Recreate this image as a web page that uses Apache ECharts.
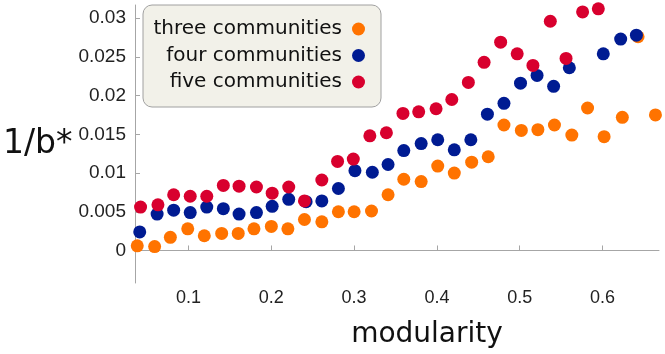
<!DOCTYPE html>
<html style="height: 100%">
<head>
   <meta charset="utf-8">
</head>
<style>
    body, html {
        margin: 0;
        padding: 0;
        background: #fff;
    }
    #main {
        width: 665px;
        height: 354px;
    }
</style>
<title>1/b* vs modularity</title>
<script src="https://cdn.jsdelivr.net/npm/echarts@6/dist/echarts.min.js"></script>
<body>
   <div id="main"></div>
   <script type="text/javascript">
    // series names
    var names = ['three communities', 'four communities', 'five communities'];
    var colors = ['#ff7300', '#001b92', '#d8002e'];

    // three communities
    var threeX = [0.038, 0.059, 0.078, 0.099, 0.119, 0.140, 0.160, 0.179, 0.200, 0.220,
                  0.240, 0.261, 0.281, 0.300, 0.321, 0.341, 0.360, 0.381, 0.401, 0.421,
                  0.442, 0.462, 0.481, 0.502, 0.522, 0.542, 0.563, 0.582, 0.602, 0.624,
                  0.643, 0.664];
    var threeY = [0.0006, 0.0005, 0.0017, 0.0028, 0.0019, 0.0022, 0.0022, 0.0028, 0.0031, 0.0028,
                  0.0040, 0.0037, 0.0050, 0.0050, 0.0051, 0.0072, 0.0092, 0.0089, 0.0109, 0.0100,
                  0.0114, 0.0121, 0.0162, 0.0155, 0.0156, 0.0162, 0.0149, 0.0184, 0.0147, 0.0172,
                  0.0276, 0.0175];

    // four communities
    var fourX = [0.041, 0.062, 0.082, 0.102, 0.122, 0.142, 0.161, 0.182, 0.201, 0.221,
                 0.242, 0.261, 0.281, 0.301, 0.322, 0.341, 0.360, 0.381, 0.401, 0.421,
                 0.441, 0.461, 0.481, 0.501, 0.521, 0.541, 0.560, 0.601, 0.622, 0.641];
    var fourY = [0.0024, 0.0047, 0.0052, 0.0049, 0.0056, 0.0054, 0.0047, 0.0049, 0.0057, 0.0066,
                 0.0063, 0.0064, 0.0080, 0.0103, 0.0101, 0.0111, 0.0129, 0.0138, 0.0143, 0.0130,
                 0.0143, 0.0176, 0.0190, 0.0216, 0.0226, 0.0212, 0.0236, 0.0254, 0.0273, 0.0278];

    // five communities
    var fiveX = [0.042, 0.063, 0.082, 0.102, 0.122, 0.142, 0.161, 0.182, 0.201, 0.221,
                 0.240, 0.261, 0.280, 0.299, 0.319, 0.339, 0.359, 0.378, 0.399, 0.418,
                 0.438, 0.457, 0.477, 0.497, 0.516, 0.537, 0.556, 0.576, 0.595];
    var fiveY = [0.0056, 0.0059, 0.0072, 0.0070, 0.0070, 0.0084, 0.0083, 0.0082, 0.0074, 0.0082,
                 0.0064, 0.0091, 0.0115, 0.0118, 0.0148, 0.0152, 0.0177, 0.0179, 0.0183, 0.0195,
                 0.0217, 0.0243, 0.0269, 0.0254, 0.0239, 0.0296, 0.0248, 0.0308, 0.0312];

    function pairs(xs, ys) {
        return xs.map(function (x, i) { return [x, ys[i]]; });
    }

    var myChart = echarts.init(document.getElementById('main'));
    var axisGray = '#a6a6a6';
    var option = {
        animation: false,
        grid: { left: 131, right: 6, top: 5, bottom: 68 },
        legend: {
            orient: 'vertical',
            left: 143,
            top: 5,
            align: 'right',
            icon: 'circle',
            itemWidth: 13,
            itemHeight: 13,
            itemGap: 6.5,
            padding: [14, 16, 15, 9],
            backgroundColor: '#f2f1e9',
            borderColor: '#a0a0a0',
            borderWidth: 1,
            borderRadius: 9,
            textStyle: {
                fontFamily: 'DejaVu Sans',
                fontSize: 20,
                lineHeight: 20,
                color: '#111',
                width: 190,
                align: 'right',
                padding: [0, 5, 0, 0]
            },
            data: names
        },
        xAxis: {
            type: 'value',
            min: 0.0353,
            max: 0.6683,
            splitNumber: 6,
            name: 'modularity',
            nameLocation: 'middle',
            nameGap: 38,
            nameTextStyle: {
                fontFamily: 'DejaVu Sans',
                fontSize: 28,
                color: '#111',
                padding: [0, 0, 0, 60]
            },
            axisLine: { lineStyle: { color: axisGray } },
            axisTick: { inside: true, length: 5, lineStyle: { color: axisGray } },
            splitLine: { show: false },
            axisLabel: {
                showMinLabel: false,
                showMaxLabel: false,
                margin: 6,
                fontFamily: 'Liberation Sans',
                fontSize: 18,
                color: '#222'
            }
        },
        yAxis: {
            type: 'value',
            min: -0.0042,
            max: 0.0317,
            splitNumber: 7,
            name: '1/b*',
            nameLocation: 'middle',
            nameRotate: 0,
            nameGap: 62,
            nameTextStyle: {
                fontFamily: 'DejaVu Sans',
                fontSize: 33,
                color: '#111',
                padding: [0, 0, 8, 0]
            },
            axisLine: { show: true, lineStyle: { color: axisGray } },
            axisTick: { show: true, inside: true, length: 5, lineStyle: { color: axisGray } },
            splitLine: { show: false },
            axisLabel: {
                showMinLabel: false,
                showMaxLabel: false,
                margin: 9,
                fontFamily: 'Liberation Sans',
                fontSize: 19,
                color: '#222'
            }
        },
        series: [
            { name: names[0], type: 'scatter', symbolSize: 13, itemStyle: { color: colors[0], opacity: 1 }, data: pairs(threeX, threeY) },
            { name: names[1], type: 'scatter', symbolSize: 13, itemStyle: { color: colors[1], opacity: 1 }, data: pairs(fourX, fourY) },
            { name: names[2], type: 'scatter', symbolSize: 13, itemStyle: { color: colors[2], opacity: 1 }, data: pairs(fiveX, fiveY) }
        ]
    };
    myChart.setOption(option);
   </script>
</body>
</html>
